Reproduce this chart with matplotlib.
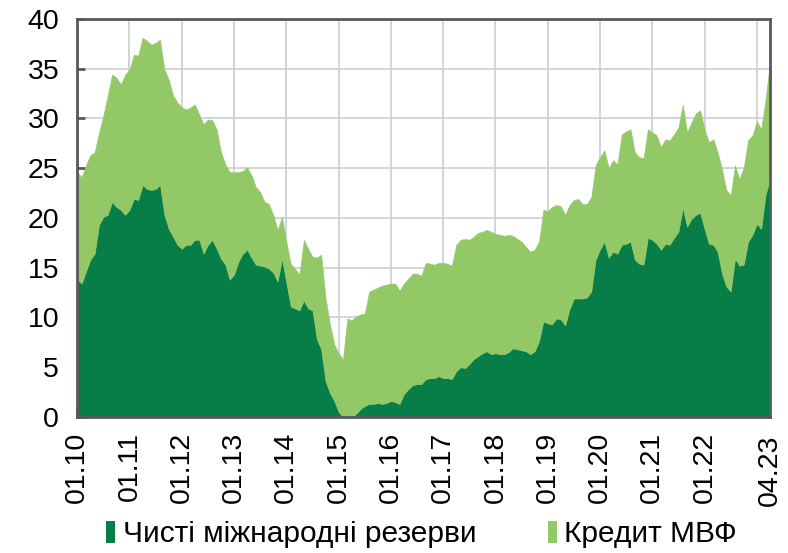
import matplotlib
matplotlib.use("Agg")
import matplotlib.pyplot as plt
from matplotlib.patches import Patch
import numpy as np

# monthly values, 01.2010 - 04.2023
reserves = [13.8, 13.4, 14.6, 15.8, 16.4, 19.3, 20.1, 20.3, 21.6, 21.1,
            20.8, 20.3, 20.8, 21.9, 21.8, 23.3, 22.9, 22.8, 22.9, 23.3,
            20.3, 18.9, 18.1, 17.3, 16.9, 17.3, 17.3, 17.8, 17.8, 16.4,
            17.3, 17.8, 16.9, 15.9, 15.3, 13.8, 14.3, 15.6, 16.4, 16.8,
            16.0, 15.3, 15.2, 15.1, 14.9, 14.5, 13.6, 15.9, 13.5, 11.1,
            10.9, 10.7, 11.7, 10.9, 10.7, 7.8, 6.8, 3.6, 2.4, 1.6,
            0.5, 0.0, 0.0, 0.0, 0.3, 0.8, 1.1, 1.3, 1.3, 1.4,
            1.3, 1.4, 1.6, 1.5, 1.3, 2.3, 2.8, 3.2, 3.3, 3.3,
            3.8, 3.9, 3.9, 4.1, 3.9, 3.9, 3.8, 4.6, 5.0, 4.9,
            5.3, 5.8, 6.1, 6.4, 6.6, 6.3, 6.4, 6.3, 6.3, 6.5,
            6.9, 6.8, 6.7, 6.6, 6.3, 6.6, 7.6, 9.6, 9.4, 9.3,
            9.9, 9.8, 9.2, 10.8, 11.9, 11.9, 11.9, 12.0, 12.6, 15.8,
            16.8, 17.6, 16.0, 16.6, 16.4, 17.3, 17.4, 17.6, 15.8, 15.4,
            15.3, 18.0, 17.8, 17.4, 16.8, 17.4, 17.3, 18.0, 18.6, 21.0,
            19.1, 19.9, 20.3, 20.5, 18.9, 17.4, 17.3, 16.6, 14.4, 13.1,
            12.6, 15.9, 15.2, 15.3, 17.6, 18.3, 19.4, 18.9, 22.3, 23.9]

# reserves + IMF credit (top of the light area)
total = [24.6, 24.1, 25.3, 26.3, 26.6, 28.6, 30.3, 32.3, 34.4, 34.1,
         33.4, 34.4, 34.9, 36.4, 36.3, 38.1, 37.8, 37.4, 37.6, 37.9,
         34.9, 33.9, 32.3, 31.6, 31.1, 30.9, 31.1, 31.4, 30.4, 29.4,
         29.9, 29.8, 28.9, 26.6, 25.4, 24.6, 24.6, 24.6, 24.7, 25.1,
         24.3, 23.1, 22.6, 21.6, 21.4, 20.3, 18.8, 20.1, 17.6, 15.4,
         14.9, 14.3, 17.8, 16.9, 16.1, 16.0, 16.3, 12.0, 9.3, 7.3,
         6.4, 5.8, 9.9, 9.7, 10.1, 10.3, 10.4, 12.6, 12.8, 13.0,
         13.2, 13.3, 13.4, 13.4, 12.7, 13.4, 13.9, 14.4, 14.4, 14.2,
         15.5, 15.4, 15.3, 15.5, 15.5, 15.4, 15.2, 17.3, 17.8, 17.9,
         17.8, 18.1, 18.5, 18.6, 18.8, 18.6, 18.4, 18.3, 18.2, 18.3,
         18.2, 17.9, 17.6, 17.1, 16.6, 16.8, 17.6, 20.8, 20.7, 21.1,
         21.3, 21.2, 20.3, 21.3, 21.8, 21.9, 21.4, 21.4, 22.1, 25.3,
         26.1, 26.8, 25.0, 25.8, 25.4, 28.4, 28.7, 28.9, 26.6, 26.1,
         26.0, 28.9, 28.6, 28.3, 27.1, 27.9, 27.8, 28.4, 29.1, 31.4,
         28.6, 29.6, 30.5, 30.8, 28.9, 27.6, 27.9, 26.6, 24.9, 22.8,
         22.3, 25.3, 23.9, 25.1, 27.8, 28.3, 29.7, 28.9, 31.9, 35.6]

year_labels = ['01.10', '01.11', '01.12', '01.13', '01.14', '01.15', '01.16',
               '01.17', '01.18', '01.19', '01.20', '01.21', '01.22', '']
last_label = '04.23'
series_names = ['Чисті міжнародні резерви', 'Кредит МВФ']

dark = '#077d48'
light = '#93c867'
axis_col = '#595959'

plt.rcParams['font.family'] = ['Liberation Sans', 'DejaVu Sans']

x = np.arange(len(reserves))
imf = np.array(total) - np.array(reserves)

fig = plt.figure(figsize=(7.88, 5.53), dpi=100)
ax = fig.add_axes([0.098, 0.246, 0.879, 0.72])

ax.stackplot(x, reserves, imf, colors=[dark, light],
             edgecolor='face', linewidth=0.4)

ax.set_xlim(0, len(reserves) - 1)
ax.set_ylim(0, 40)
ax.set_yticks(np.arange(0, 41, 5))
ax.set_xticks(np.arange(0, 157, 12))
ax.set_xticklabels(year_labels, rotation=90)
ax.set_xticks([len(reserves) - 1], [last_label], minor=True, rotation=90)

ax.set_axisbelow(True)
ax.grid(True, color='#c9cdd2', linewidth=1.2)

for s in ax.spines.values():
    s.set_color(axis_col)
    s.set_linewidth(2)

ax.tick_params(axis='both', which='major', direction='in', length=6, width=2,
               color=axis_col, labelsize=20.5, labelcolor='black')
ax.tick_params(axis='y', pad=13)
ax.tick_params(axis='x', which='major', pad=11)
ax.tick_params(axis='x', which='minor', length=0, pad=13, labelsize=20.5)

handles = [Patch(facecolor=dark, edgecolor='none'),
           Patch(facecolor=light, edgecolor='none')]
fig.legend(handles, series_names, loc='center', bbox_to_anchor=(0.535, 0.034),
           ncol=2, frameon=False, fontsize=21.5, handlelength=0.3,
           handleheight=0.75, handletextpad=0.25, columnspacing=2.4)

fig.savefig('out.png', dpi=100)
